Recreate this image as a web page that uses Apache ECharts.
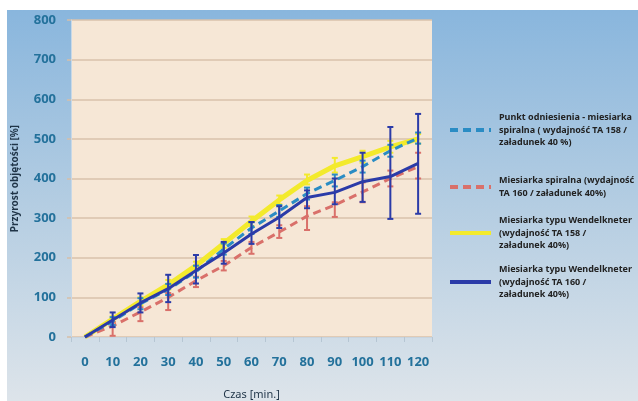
<!DOCTYPE html>
<html>
<head>
<meta charset="utf-8">
<script src="https://cdn.jsdelivr.net/npm/echarts@6/dist/echarts.min.js"></script>
<style>
  html, body { margin: 0; padding: 0; background: #ffffff; }
  #chart { position: absolute; left: 7px; top: 10px; width: 631px; height: 391px; }
</style>
</head>
<body>
<div id="chart"></div>
<script>
const categories = ['0', '10', '20', '30', '40', '50', '60', '70', '80', '90', '100', '110', '120']
const yTicks = [0, 100, 200, 300, 400, 500, 600, 700, 800]

const refData = [0, 40, 84, 120, 165, 222, 275, 318, 362, 395, 430, 470, 502]
const refLow = [0, 30, 70, 106, 150, 208, 260, 303, 347, 380, 415, 455, 488]
const refHigh = [0, 50, 98, 134, 180, 236, 290, 333, 377, 410, 445, 485, 516]

const spiralData = [0, 28, 63, 100, 142, 180, 226, 265, 305, 333, 366, 400, 430]
const spiralLow = [0, 3, 40, 68, 126, 168, 210, 250, 270, 303, 340, 380, 400]
const spiralHigh = [0, 38, 75, 111, 152, 192, 240, 282, 330, 340, 390, 420, 465]

const wendelYData = [0, 45, 90, 132, 180, 236, 292, 346, 395, 432, 455, 480, 500]
const wendelYLow = [0, 38, 80, 120, 170, 225, 280, 335, 385, 415, 440, 465, 488]
const wendelYHigh = [0, 52, 100, 144, 190, 247, 304, 357, 410, 452, 470, 495, 512]

const wendelBData = [0, 43, 86, 122, 168, 212, 260, 302, 352, 365, 392, 405, 438]
const wendelBLow = [0, 25, 62, 88, 135, 185, 235, 275, 325, 335, 341, 298, 311]
const wendelBHigh = [0, 62, 110, 157, 207, 240, 290, 330, 370, 400, 465, 530, 563]

const REF_COLOR = '#2a8cc4'
const SPIRAL_COLOR = '#d9706a'
const WENDEL_Y_COLOR = '#f3ea2c'
const WENDEL_B_COLOR = '#2b3ba8'

const REF_NAME = 'Punkt odniesienia - miesiarka spiralna ( wydajność TA 158 / załadunek 40 %)'
const SPIRAL_NAME = 'Miesiarka spiralna (wydajność TA 160 / załadunek 40%)'
const WENDEL_Y_NAME = 'Miesiarka typu Wendelkneter (wydajność TA 158 / załadunek 40%)'
const WENDEL_B_NAME = 'Miesiarka typu Wendelkneter (wydajność TA 160 / załadunek 40%)'

const LEGEND_TEXT = {
  [REF_NAME]: 'Punkt odniesienia - miesiarka\nspiralna ( wydajność TA 158 /\nzaładunek 40 %)',
  [SPIRAL_NAME]: 'Miesiarka spiralna (wydajność\nTA 160 / załadunek 40%)',
  [WENDEL_Y_NAME]: 'Miesiarka typu Wendelkneter\n(wydajność TA 158 /\nzaładunek 40%)',
  [WENDEL_B_NAME]: 'Miesiarka typu Wendelkneter\n(wydajność TA 160 /\nzaładunek 40%)',
}

function lineSeries(name, data, color, width, dashed, z) {
  return {
    name,
    type: 'line',
    data,
    symbol: 'none',
    z,
    lineStyle: { color, width, type: dashed ? [8, 5] : 'solid' },
    itemStyle: { color },
  }
}

function errorSeries(low, high, color, z) {
  return {
    type: 'custom',
    z,
    silent: true,
    data: categories.map((c, i) => [i, low[i], high[i]]),
    renderItem: (params, api) => {
      const x = api.value(0)
      if (api.value(1) === api.value(2)) return null
      const lo = api.coord([x, api.value(1)])
      const hi = api.coord([x, api.value(2)])
      const cap = 3
      const style = { stroke: color, lineWidth: 2 }
      return {
        type: 'group',
        children: [
          { type: 'line', shape: { x1: lo[0], y1: lo[1], x2: hi[0], y2: hi[1] }, style },
          { type: 'line', shape: { x1: lo[0] - cap, y1: lo[1], x2: lo[0] + cap, y2: lo[1] }, style },
          { type: 'line', shape: { x1: hi[0] - cap, y1: hi[1], x2: hi[0] + cap, y2: hi[1] }, style },
        ],
      }
    },
  }
}

function legendFor(name, top, lines) {
  return {
    data: [name],
    left: 436,
    top,
    orient: 'vertical',
    itemWidth: 41,
    itemHeight: 12,
    itemStyle: { opacity: 0 },
    lineStyle: { width: 4 },
    formatter: (n) => LEGEND_TEXT[n],
    textStyle: {
      fontFamily: 'Noto Sans',
      fontSize: 9,
      fontWeight: 'bold',
      color: '#222222',
      lineHeight: 12.5,
      padding: lines === 3 ? [12.5, 0, 0, 3] : [0, 0, 0, 3],
    },
  }
}

const chart = echarts.init(document.getElementById('chart'))
chart.setOption({
  animation: false,
  backgroundColor: {
    type: 'linear', x: 0, y: 0, x2: 0, y2: 1,
    colorStops: [
      { offset: 0, color: '#89b6dd' },
      { offset: 0.5, color: '#b4cde2' },
      { offset: 1, color: '#dde4ea' },
    ],
  },
  grid: {
    left: 64,
    top: 10,
    width: 361,
    height: 317,
    outerBoundsMode: 'none',
    show: true,
    backgroundColor: '#f6e7d6',
    borderWidth: 0,
  },
  legend: [
    legendFor(REF_NAME, 90, 3),
    legendFor(SPIRAL_NAME, 159.5, 2),
    legendFor(WENDEL_Y_NAME, 193, 3),
    legendFor(WENDEL_B_NAME, 242, 3),
  ],
  xAxis: {
    type: 'category',
    data: categories,
    boundaryGap: true,
    name: 'Czas [min.]',
    nameLocation: 'middle',
    nameGap: 52,
    nameMoveOverlap: false,
    nameTextStyle: { fontFamily: 'Noto Sans', fontSize: 11, color: '#1f3447' },
    axisLine: { lineStyle: { color: '#c8d4de', width: 1 } },
    axisTick: { show: true, length: 5, lineStyle: { color: '#b6c6d3' } },
    axisLabel: {
      interval: 0,
      fontFamily: 'Noto Sans',
      fontSize: 13,
      fontWeight: 'bold',
      color: '#23719b',
      margin: 19,
    },
  },
  yAxis: {
    type: 'value',
    min: 0,
    max: 800,
    interval: 100,
    name: 'Przyrost objętości [%]',
    nameLocation: 'middle',
    nameRotate: 90,
    nameGap: 51,
    nameMoveOverlap: false,
    nameTextStyle: { fontFamily: 'Noto Sans', fontSize: 10, fontWeight: 'bold', color: '#1f3447' },
    axisLine: { show: true, lineStyle: { color: '#c8d8e6' } },
    axisTick: { show: true, length: 4, lineStyle: { color: '#d6bfa8', width: 1.5 } },
    axisLabel: {
      fontFamily: 'Noto Sans',
      fontSize: 13,
      fontWeight: 'bold',
      color: '#23719b',
      margin: 15,
      formatter: (v) => (yTicks.includes(v) ? String(v) : ''),
    },
    splitLine: { show: true, lineStyle: { color: '#d9c2ab', width: 1.5 } },
  },
  series: [
    lineSeries(WENDEL_Y_NAME, wendelYData, WENDEL_Y_COLOR, 5, false, 2),
    errorSeries(wendelYLow, wendelYHigh, WENDEL_Y_COLOR, 2),
    lineSeries(SPIRAL_NAME, spiralData, SPIRAL_COLOR, 3, true, 3),
    errorSeries(spiralLow, spiralHigh, SPIRAL_COLOR, 3),
    lineSeries(REF_NAME, refData, REF_COLOR, 3, true, 4),
    errorSeries(refLow, refHigh, REF_COLOR, 4),
    lineSeries(WENDEL_B_NAME, wendelBData, WENDEL_B_COLOR, 3, false, 5),
    errorSeries(wendelBLow, wendelBHigh, WENDEL_B_COLOR, 5),
  ],
})
</script>
</body>
</html>
